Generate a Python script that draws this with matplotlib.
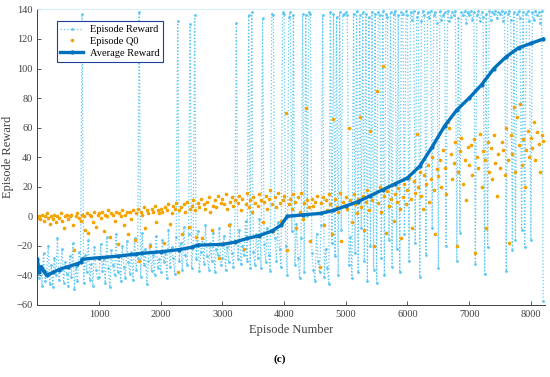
import numpy as np
import matplotlib
matplotlib.use('Agg')
import matplotlib.pyplot as plt

plt.rcParams['font.family'] = ['Liberation Serif', 'DejaVu Serif']

# Episode reward, read every 25 episodes (0 ... 8200)
reward = [
    -30, -42, -35, -47, -25, -44, -38, -20, -46, -33, -48, -28, -40, -15, -43, -36, -22, -45, -31, -39,
    -47, -27, -41, -18, -49, -34, -44, -24, -30, 137, -45, -26, -38, -16, -43, -32, -47, -21, -36, -42,
    -41, -19, -37, -29, -45, -14, -35, -48, -23, -33, -40, -12, -38, -27, -44, -20, -34, -42, -17, -31,
    -39, -24, -43, -15, -36, -28, 138, -41, -11, -33, -22, -46, -30, -19, -37, -26, -40, -13, -35, -29,
    -38, -16, -31, -25, -42, -9, -34, -21, -28, -39, -14, 132, -30, -18, -36, -7, -26, -33, -12, 130,
    -35, -20, 136, -29, -10, -37, -24, -15, -32, -6, -27, -36, -18, -30, -11, -38, -22, -26, -8, -33,
    -28, -13, -36, -21, -31, -5, -25, -34, -17, 131, -29, -9, -32, -20, -26, -3, -30, 136, -35, 138,
    -24, -33, -12, -28, -2, -35, 134, -19, -31, -8, -26, -37, 137, 136, -15, -30, -4, -22, -34, 138,
    137, -20, -40, 135, 138, -10, 136, -33, -5, -28, -42, -15, 137, -38, 136, 0, 138, 137, -25, -36,
    -44, -12, -30, -38, -6, 136, -41, -22, -35, -46, 138, -18, 137, -27, 135, -40, 138, -9, 136, 137,
    138, 136, -33, -14, -42, 137, -25, 139, -38, 136, -8, 138, -30, 137, -44, 135, -20, 138, -36, 137,
    -45, 138, 136, -28, 139, -40, 137, 135, -16, 138, -34, 137, 139, -22, 136, -38, 138, 137, -12, 139,
    136, -30, 138, 133, 139, -18, 135, 138, -41, 132, 139, 136, -26, 138, 134, 139, -8, 136, 138, 131,
    -35, 139, 133, 136, 138, -20, 139, 132, 135, 138, 136, 139, -30, 134, -11, 138, 136, 139, 131, 138,
    136, 139, 133, 138, -32, 136, 139, 132, 138, 135, -39, 137, -21, 139, 133, 138, 137, 139, 134, 138,
    137, 139, 132, 138, -37, 137, 139, 133, -23, 138, -16, 137, 139, 134, -9, 138, -21, 137, 139, 132,
    -16, 138, 133, 139, 136, 138, 131, 139, -57,
]
reward_ep = np.arange(0, 8201, 25)

# Episode Q0, same episodes
q0 = [
    -1, 0, -2, 1, -3, 0, 2, -1, -5, 0, -2, 1, -4, 0, -1, 2, -3, -8, 0, 1,
    -2, 0, 1, -6, -23, 0, 2, -1, -3, 1, 0, -9, 2, -11, 1, 0, -4, 3, -7, 1,
    2, -1, 3, -10, 1, 0, 4, -14, 2, 1, -3, 3, -19, 2, 0, 4, -6, 1, 3, -12,
    3, -2, 4, -16, 2, 5, -30, 3, 1, 6, -8, 4, 2, -20, 5, 3, 7, -4, 4, 2,
    5, 3, -18, 6, 4, 8, -5, 2, 7, 5, 9, -38, 4, 6, -12, 8, 3, 10, -7, 5,
    7, 11, 4, -14, 9, 6, 12, -15, 8, 5, 10, 13, 3, -9, 7, 11, 6, 14, -28, 9,
    12, 8, 15, 5, -6, 10, 13, 7, 11, -17, 9, 14, 4, 12, -22, 8, 16, 6, 11, 3,
    13, 9, -13, 7, 15, 11, -4, 10, 14, 5, 12, 18, 8, -10, 13, 6, 16, 9, -3, 11,
    14, 70, -23, 8, 12, 5, 15, 10, -8, 13, 3, 16, -2, 9, 73, 11, 6, -17, 12, 7,
    10, 14, 2, -34, 9, 13, -6, 11, 4, 15, 8, -12, 66, 12, 6, 3, 16, -17, 10, 7,
    13, 5, 60, 11, -4, 15, 8, 2, 12, 67, 6, 14, -9, 10, 18, 4, 58, 11, -20, 16,
    85, 9, 20, 3, 102, 14, -11, 17, 7, 12, 21, -3, 15, 10, 19, 5, -15, 13, 22, 8,
    18, 26, 12, -8, 24, 16, 56, 20, 30, 14, 5, 28, 22, 35, 10, 25, 40, 18, -12, 32,
    27, 38, 20, 45, 33, 15, 64, 60, 42, 25, 36, 50, -20, 30, 44, 53, 22, 38, 11, 47,
    35, 48, 28, 52, -25, 40, 33, 56, 20, 44, 38, -8, 50, 30, 46, 25, 55, 36, 14, 42,
    33, 50, 45, 28, 60, 38, -18, 55, 42, 74, 30, 67, 48, 76, 35, 52, 20, 45, 58, 40,
    53, 46, 64, 38, 57, 49, 30, 55, 51,
]

# Average reward
avg_ep = [0, 30, 60, 100, 150, 250, 350, 500, 650, 710, 730, 1000, 1300, 1600, 1700,
          2000, 2300, 2500, 2600, 3000, 3200, 3400, 3600, 3800, 3950, 4050, 4300,
          4600, 4800, 5000, 5200, 5400, 5600, 5800, 6000, 6200, 6400, 6600, 6800,
          7000, 7200, 7400, 7600, 7800, 8000, 8200]
avg_val = [-29, -38, -34, -37, -40, -38, -36, -34, -32, -31, -29, -28, -27, -25.5, -25,
           -24, -22.5, -21, -19.5, -19, -17.5, -15, -13, -10, -6, 0, 1,
           2, 4, 7, 10, 14, 18, 22, 26, 34, 47, 61, 72,
           80, 89, 100, 108, 114, 117, 120]

fig = plt.figure(figsize=(5.5, 3.77), dpi=100)
ax = fig.add_axes([0.068, 0.191, 0.923, 0.784])

ax.plot(reward_ep, reward, ':', color='#5ec8f2', lw=0.9, marker='.', ms=2,
        label='Episode Reward')
ax.plot(reward_ep, q0, '.', color='#F5A300', ms=3.2, label='Episode Q0')
ax.plot(avg_ep, avg_val, '-', color='#0072BD', lw=2.4, marker='.', ms=4,
        label='Average Reward')

ax.set_xlim(0, 8230)
ax.set_ylim(-60, 140)
ax.set_xticks(range(1000, 8001, 1000))
ax.set_yticks(range(-60, 141, 20))
ax.tick_params(direction='in', length=3, width=0.6, labelsize=7.5, colors='#404040')
for s in ['left', 'bottom']:
    ax.spines[s].set_color('#404040')
    ax.spines[s].set_linewidth(0.7)
ax.spines['top'].set_color('#cdeefb')
ax.spines['top'].set_linewidth(0.6)
ax.spines['right'].set_visible(False)

ax.set_xlabel('Episode Number', fontsize=9, color='#404040')
ax.set_ylabel('Episode Reward', fontsize=9, color='#404040', labelpad=2)

leg = ax.legend(loc='upper left', bbox_to_anchor=(0.038, 0.96), borderaxespad=0,
                fontsize=7.5, fancybox=False, framealpha=1, borderpad=0.35,
                labelspacing=0.25, handlelength=2.2, handletextpad=0.6)
leg.get_frame().set_edgecolor('#1f3f9f')
leg.get_frame().set_linewidth(0.8)

fig.text(0.509, 0.04, '(c)', fontsize=8, fontweight='bold', ha='center')

fig.savefig('out.png', dpi=100)
